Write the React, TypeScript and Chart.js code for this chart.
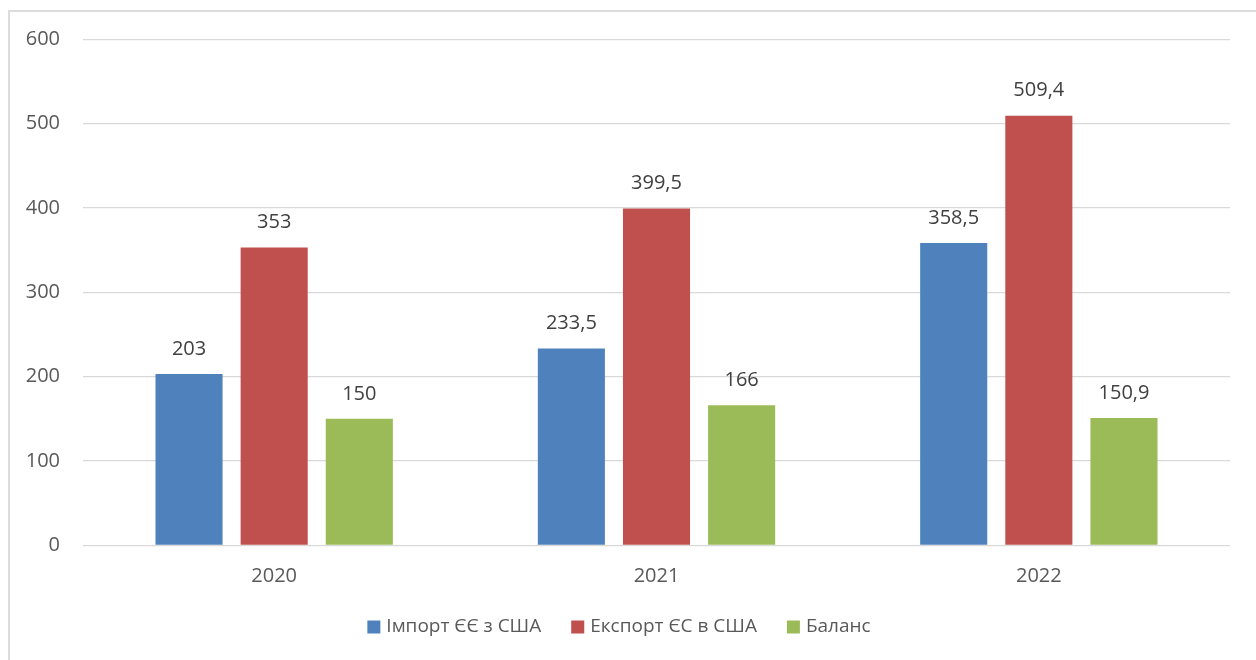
import React, { useEffect, useRef } from "react";
import { Chart, registerables } from "chart.js";

Chart.register(...registerables);

const categories = ["2020", "2021", "2022"];
const seriesNames = ["Імпорт ЄЄ з США", "Експорт ЄС в США", "Баланс"];
const importValues = [203, 233.5, 358.5];
const exportValues = [353, 399.5, 509.4];
const balanceValues = [150, 166, 150.9];
const seriesColors = ["#4F81BD", "#C0504D", "#9BBB59"];
const yTicks = [0, 100, 200, 300, 400, 500, 600];

const FONT = "'Open Sans', 'DejaVu Sans', sans-serif";

const fmt = (v: number) => String(v).replace(".", ",");

const dataLabelPlugin = {
  id: "dataLabels",
  afterDatasetsDraw(chart: any) {
    const ctx = chart.ctx;
    ctx.save();
    ctx.font = `20px ${FONT}`;
    ctx.fillStyle = "#404040";
    ctx.textAlign = "center";
    ctx.textBaseline = "middle";
    chart.data.datasets.forEach((ds: any, i: number) => {
      const meta = chart.getDatasetMeta(i);
      meta.data.forEach((el: any, j: number) => {
        ctx.fillText(fmt(ds.data[j]), el.x, el.y - 25);
      });
    });
    ctx.restore();
  },
};

const legendPlugin = {
  id: "customLegend",
  afterDraw(chart: any) {
    const ctx = chart.ctx;
    ctx.save();
    ctx.font = `19px ${FONT}`;
    ctx.textBaseline = "middle";
    ctx.textAlign = "left";
    const box = 13;
    const gap = 6;
    const itemGap = 30;
    const items = chart.data.datasets.map((ds: any) => ({
      text: ds.label,
      color: ds.backgroundColor,
      w: ctx.measureText(ds.label).width,
    }));
    const total =
      items.reduce((s: number, it: any) => s + box + gap + it.w, 0) +
      itemGap * (items.length - 1);
    let x = 619 - total / 2;
    const y = 627;
    items.forEach((it: any) => {
      ctx.fillStyle = it.color;
      ctx.fillRect(x, y - box / 2, box, box);
      ctx.fillStyle = "#595959";
      ctx.fillText(it.text, x + box + gap, y);
      x += box + gap + it.w + itemGap;
    });
    ctx.restore();
  },
};

export default function App() {
  const ref = useRef<HTMLCanvasElement | null>(null);
  useEffect(() => {
    if (!ref.current) return;
    const values = [importValues, exportValues, balanceValues];
    const chart = new Chart(ref.current, {
      type: "bar",
      data: {
        labels: categories,
        datasets: seriesNames.map((name, i) => ({
          label: name,
          data: values[i],
          backgroundColor: seriesColors[i],
          borderWidth: 0,
          categoryPercentage: 0.668,
          barPercentage: 0.788,
        })),
      },
      options: {
        responsive: false,
        animation: false,
        devicePixelRatio: 1,
        layout: { padding: { left: 0, right: 26, top: 39.3, bottom: 74.7 } },
        plugins: {
          legend: { display: false },
          tooltip: { enabled: false },
        },
        scales: {
          x: {
            grid: { display: false, drawTicks: false },
            border: { display: false },
            ticks: {
              color: "#595959",
              font: { family: FONT, size: 20 },
              padding: 19,
            },
            afterFit: (s: any) => {
              s.height = 40;
            },
          },
          y: {
            min: 0,
            max: 600,
            afterBuildTicks: (s: any) => {
              s.ticks = yTicks.map((v) => ({ value: v }));
            },
            grid: { color: "#d9d9d9", lineWidth: 1.3, drawTicks: false },
            border: { display: false },
            ticks: {
              color: "#595959",
              font: { family: FONT, size: 20 },
              padding: 23,
            },
            afterFit: (s: any) => {
              s.width = 83;
            },
          },
        },
      },
      plugins: [dataLabelPlugin, legendPlugin],
    });
    return () => chart.destroy();
  }, []);

  return (
    <div>
      <div
        style={{
          position: "fixed",
          left: 8,
          top: 10,
          width: 1400,
          height: 800,
          borderLeft: "2px solid #dcdcdc",
          borderTop: "2px solid #dcdcdc",
        }}
      />
      <canvas
        ref={ref}
        width={1256}
        height={660}
        style={{ position: "fixed", left: 0, top: 0, width: 1256, height: 660 }}
      />
    </div>
  );
}
